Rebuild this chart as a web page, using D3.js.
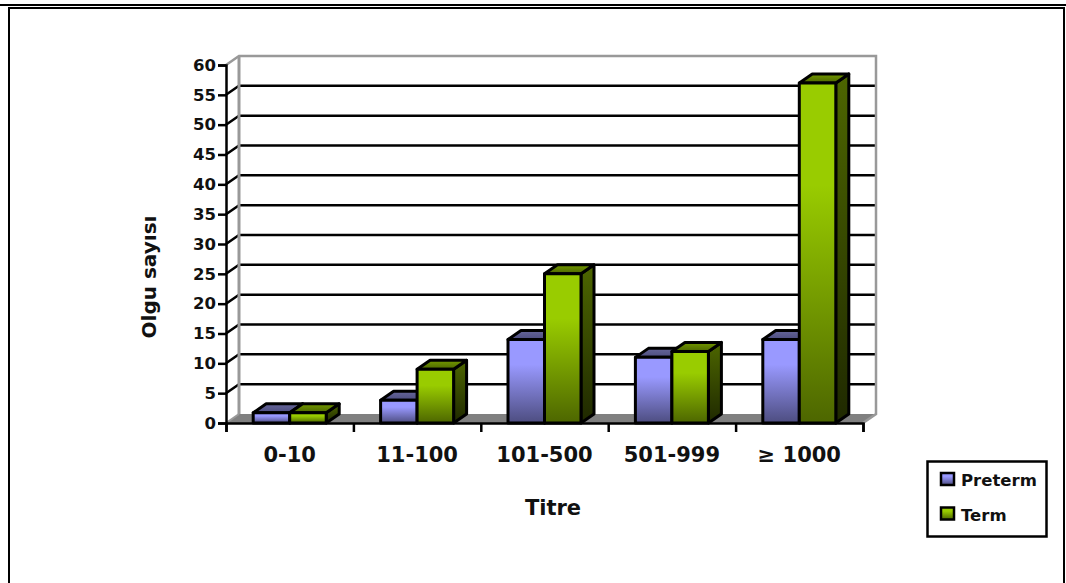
<!DOCTYPE html>
<html>
<head>
<meta charset="utf-8">
<script src="https://cdn.jsdelivr.net/npm/d3@7/dist/d3.min.js"></script>
<style>
  html, body { margin: 0; padding: 0; background: #fff; }
  svg { display: block; }
  text { font-family: "DejaVu Sans", sans-serif; font-weight: 700; fill: #111; }
</style>
</head>
<body>
<svg id="chart" width="1066" height="583"></svg>
<script>
const categories = ["0-10", "11-100", "101-500", "501-999", "≥ 1000"];
const seriesNames = ["Preterm", "Term"];
const pretermValues = [1.7, 3.8, 14, 11, 14];
const termValues = [1.7, 9, 25, 12, 57];
const yTicks = d3.range(0, 61, 5);

const seriesColors = {
  Preterm: { front: ["#9999ff", "#9999ff", "#4d4d80"], side: ["#4d4d80", "#26264d"], top: ["#666699", "#4d4d80"] },
  Term: { front: ["#99cc00", "#99cc00", "#4d6600"], side: ["#4d6600", "#1f2900"], top: ["#739900", "#4d6600"] }
};

const svg = d3.select("#chart");
const depth = { x: 13, y: -9 };
const plot = { left: 226, right: 863, top: 65, bottom: 423 };

const y = d3.scaleLinear().domain([0, 60]).range([plot.bottom, plot.top]);
const x0 = d3.scaleBand().domain(categories).range([plot.left, plot.right]);
const x1 = d3.scaleBand().domain(seriesNames)
  .range([x0.bandwidth() / 2 - 36.5, x0.bandwidth() / 2 + 36.5]);

// Vertical gradients for each face of the 3-D bars and legend keys
const defs = svg.append("defs");
function gradient(id, colors, offsets) {
  const g = defs.append("linearGradient").attr("id", id)
    .attr("x1", 0).attr("y1", 0).attr("x2", 0).attr("y2", 1);
  colors.forEach((c, i) => g.append("stop")
    .attr("offset", offsets ? offsets[i] : i / (colors.length - 1))
    .attr("stop-color", c));
}
seriesNames.forEach(name => {
  const c = seriesColors[name];
  gradient(name + "-front", c.front, [0, 0.3, 1]);
  gradient(name + "-side", c.side);
  gradient(name + "-top", c.top);
});

// Page frame
svg.append("line").attr("x1", 0).attr("x2", 1066).attr("y1", 5).attr("y2", 5)
  .attr("stroke", "#000").attr("stroke-width", 2);
svg.append("path").attr("d", "M9,583V8H1064V583")
  .attr("fill", "none").attr("stroke", "#000").attr("stroke-width", 2);

const pts = a => a.map(p => p.join(",")).join(" ");

// Floor
svg.append("polygon")
  .attr("points", pts([
    [plot.left, y(0)], [plot.left + depth.x, y(0) + depth.y],
    [plot.right + depth.x, y(0) + depth.y], [plot.right, y(0)]
  ]))
  .attr("fill", "#808080");

// Gridlines on the back wall with their slanted links to the axis ticks
const grid = svg.append("g");
yTicks.filter(v => v > 0 && v < 60).forEach(v => {
  grid.append("path")
    .attr("d", `M${plot.left},${y(v)}L${plot.left + depth.x},${y(v) + depth.y}H${plot.right + depth.x}`)
    .attr("fill", "none").attr("stroke", "#000").attr("stroke-width", 2.5);
});

// Wall edges
svg.append("path")
  .attr("d", `M${plot.left},${y(60)}L${plot.left + depth.x},${y(60) + depth.y}H${plot.right + depth.x}V${y(0) + depth.y}L${plot.right},${y(0)}`)
  .attr("fill", "none").attr("stroke", "#999").attr("stroke-width", 2.5);
svg.append("line")
  .attr("x1", plot.left + depth.x).attr("x2", plot.left + depth.x)
  .attr("y1", y(60) + depth.y).attr("y2", y(0) + depth.y)
  .attr("stroke", "#999").attr("stroke-width", 3);
svg.append("line")
  .attr("x1", plot.left).attr("x2", plot.left + depth.x)
  .attr("y1", y(0)).attr("y2", y(0) + depth.y)
  .attr("stroke", "#999").attr("stroke-width", 2);

// Bars: the Term bar stands in front of the Preterm side face
const rows = categories.flatMap((c, i) => [
  { category: c, series: "Preterm", value: pretermValues[i] },
  { category: c, series: "Term", value: termValues[i] }
]);
const bars = svg.append("g").selectAll("g").data(rows).join("g")
  .attr("stroke", "#000").attr("stroke-width", 3).attr("stroke-linejoin", "round");
bars.each(function (d) {
  const g = d3.select(this);
  const l = x0(d.category) + x1(d.series);
  const r = l + x1.bandwidth();
  const t = y(d.value);
  const b = y(0);
  g.append("polygon")
    .attr("points", pts([[r, t], [r + depth.x, t + depth.y], [r + depth.x, b + depth.y], [r, b]]))
    .attr("fill", `url(#${d.series}-side)`);
  g.append("polygon")
    .attr("points", pts([[l, t], [l + depth.x, t + depth.y], [r + depth.x, t + depth.y], [r, t]]))
    .attr("fill", `url(#${d.series}-top)`);
  g.append("rect").attr("x", l).attr("y", t).attr("width", r - l).attr("height", b - t)
    .attr("fill", `url(#${d.series}-front)`);
});

// Y axis
const yAxis = svg.append("g").attr("transform", `translate(${plot.left},0)`)
  .call(d3.axisLeft(y).tickValues(yTicks).tickSize(8).tickPadding(2));
yAxis.selectAll("path,line").attr("stroke", "#000").attr("stroke-width", 2.5);
yAxis.selectAll("text").style("font-family", '"DejaVu Sans", sans-serif')
  .style("font-size", "16.5px").style("font-weight", 700).attr("fill", "#111");

// X axis: ticks fall on the category boundaries, labels on the centres
const edges = categories.map(c => x0(c)).concat(plot.right);
const xEdge = d3.scaleLinear().domain([plot.left, plot.right]).range([plot.left, plot.right]);
const xAxis = svg.append("g").attr("transform", `translate(0,${plot.bottom})`)
  .call(d3.axisBottom(xEdge).tickValues(edges).tickSize(9).tickFormat(""));
xAxis.selectAll("path,line").attr("stroke", "#000").attr("stroke-width", 2.5);
svg.append("g").selectAll("text").data(categories).join("text")
  .attr("x", c => x0(c) + x0.bandwidth() / 2)
  .attr("y", 462).attr("text-anchor", "middle").attr("font-size", 21)
  .text(d => d);

// Axis titles
svg.append("text").attr("x", 553).attr("y", 515).attr("text-anchor", "middle")
  .attr("font-size", 21).text("Titre");
svg.append("text").attr("transform", "translate(156,277) rotate(-90)")
  .attr("text-anchor", "middle").attr("font-size", 20).text("Olgu sayısı");

// Legend
const legend = svg.append("g");
legend.append("rect").attr("x", 927.5).attr("y", 461.5).attr("width", 119).attr("height", 75)
  .attr("fill", "#fff").attr("stroke", "#000").attr("stroke-width", 2.5);
const legendRow = d3.scalePoint().domain(seriesNames).range([479, 513.5]);
seriesNames.forEach(name => {
  legend.append("rect").attr("x", 941).attr("y", legendRow(name) - 6)
    .attr("width", 13).attr("height", 12)
    .attr("fill", `url(#${name}-front)`).attr("stroke", "#000").attr("stroke-width", 2.5);
  legend.append("text").attr("x", 961).attr("y", legendRow(name) + 7)
    .attr("font-size", 16.5).text(name);
});
</script>
</body>
</html>
